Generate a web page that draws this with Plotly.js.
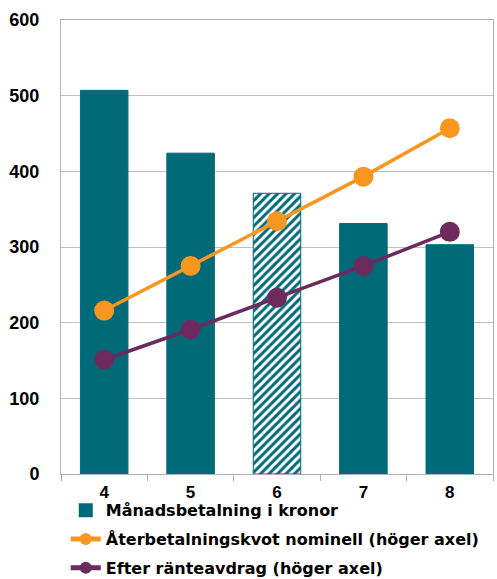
<!DOCTYPE html>
<html>
<head>
<meta charset="utf-8">
<script src="https://cdn.plot.ly/plotly-3.0.1.min.js"></script>
<style>html,body{margin:0;padding:0;background:#fff;}#chart{width:497px;height:579px;}</style>
</head>
<body>
<div id="chart"></div>
<script>
const categories = ["4", "5", "6", "7", "8"];
const monthlyPayment = [507, 424, 371, 331, 303];
const repaymentNominal = [216, 275, 334, 393, 457];
const afterInterestDeduction = [151, 191, 233, 275, 320];
const yTicks = [0, 100, 200, 300, 400, 500, 600];
const barPatterns = ["", "", "/", "", ""];

const teal = "#006A78";
const orange = "#F7971F";
const purple = "#6D2A5E";

const traces = [
  {
    type: "bar", x: categories, y: monthlyPayment, name: "Månadsbetalning i kronor",
    width: 0.55, legendgroup: "a",
    marker: {
      color: teal,
      line: {color: teal, width: 1},
      pattern: {shape: barPatterns, fgcolor: teal, bgcolor: "#ffffff", size: 6, solidity: 0.5, fillmode: "replace"}
    }
  },
  {
    type: "scatter", mode: "lines+markers", x: categories, y: repaymentNominal, yaxis: "y2",
    name: "Återbetalningskvot nominell (höger axel)", legendgroup: "b",
    line: {color: orange, width: 3.5}, marker: {color: orange, size: 20}
  },
  {
    type: "scatter", mode: "lines+markers", x: categories, y: afterInterestDeduction, yaxis: "y2",
    name: "Efter ränteavdrag (höger axel)", legendgroup: "c",
    line: {color: purple, width: 3.5}, marker: {color: purple, size: 20}
  }
];

const layout = {
  width: 497, height: 579,
  margin: {l: 61, r: 4, t: 20, b: 105},
  paper_bgcolor: "#ffffff", plot_bgcolor: "#ffffff",
  font: {family: "Liberation Sans, Arial, sans-serif", color: "#000000"},
  showlegend: true,
  legend: {
    orientation: "v", xref: "paper", x: 0.011, xanchor: "left",
    yref: "container", y: 0.148, yanchor: "top",
    font: {size: 16, family: "DejaVu Sans, sans-serif", weight: "bold", color: "#000"},
    traceorder: "grouped", tracegroupgap: 5, itemsizing: "constant", itemwidth: 30,
    bgcolor: "rgba(0,0,0,0)"
  },
  xaxis: {
    type: "category", tickson: "boundaries", ticks: "outside", ticklen: 6, tickcolor: "#b0b0b0",
    showline: true, linecolor: "#b0b0b0", linewidth: 1, mirror: true, showgrid: false,
    ticklabelstandoff: 3,
    tickfont: {size: 17, weight: "bold"}
  },
  yaxis: {
    range: [0, 600], tickvals: yTicks, ticktext: yTicks.map(String),
    showgrid: true, gridcolor: "#c0c0c0", gridwidth: 1,
    showline: true, linecolor: "#b0b0b0", linewidth: 1, mirror: true,
    ticks: "", ticklabelstandoff: 17, zeroline: false,
    tickfont: {size: 18, weight: "bold"}
  },
  yaxis2: {range: [0, 600], overlaying: "y", side: "right", visible: false, showgrid: false}
};

Plotly.newPlot("chart", traces, layout, {displayModeBar: false, staticPlot: true});
</script>
</body>
</html>
